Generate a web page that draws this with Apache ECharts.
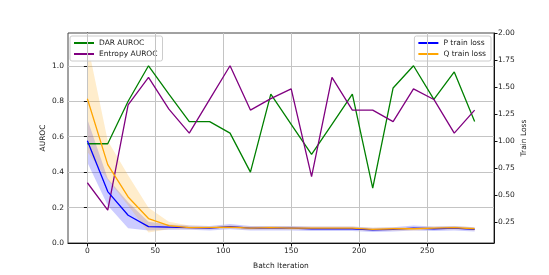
<!DOCTYPE html>
<html><head><meta charset="utf-8">
<script src="https://cdn.jsdelivr.net/npm/echarts@6/dist/echarts.min.js"></script>
<style>html,body{margin:0;padding:0;background:#fff}#c{width:549px;height:275px}</style>
</head><body><div id="c"></div>
<script>
const iterations = [0,15,30,45,60,75,90,105,120,135,150,165,180,195,210,225,240,255,270,285];
const darAuroc = [0.56,0.56,0.80,1.0,0.84,0.685,0.685,0.62,0.40,0.84,0.67,0.50,0.67,0.84,0.31,0.875,1.0,0.81,0.965,0.685];
const entropyAuroc = [0.34,0.185,0.78,0.935,0.755,0.62,0.81,1.0,0.75,0.815,0.87,0.375,0.935,0.75,0.75,0.685,0.87,0.81,0.62,0.75];
const pLoss = [1.0,0.53,0.31,0.205,0.20,0.195,0.19,0.205,0.19,0.19,0.19,0.185,0.185,0.185,0.175,0.18,0.19,0.185,0.19,0.18];
const pLossLow = [0.80,0.40,0.19,0.17,0.175,0.175,0.17,0.18,0.17,0.17,0.17,0.165,0.165,0.165,0.155,0.16,0.17,0.165,0.17,0.16];
const pLossHigh = [1.20,0.65,0.43,0.25,0.225,0.215,0.21,0.23,0.21,0.21,0.21,0.205,0.205,0.205,0.195,0.20,0.215,0.205,0.21,0.20];
const qLoss = [1.39,0.78,0.48,0.28,0.215,0.195,0.195,0.20,0.19,0.195,0.19,0.19,0.19,0.19,0.18,0.185,0.185,0.19,0.195,0.185];
const qLossLow = [0.90,0.64,0.40,0.15,0.18,0.18,0.18,0.185,0.175,0.18,0.175,0.175,0.175,0.175,0.165,0.17,0.17,0.175,0.18,0.17];
const qLossHigh = [1.91,1.0,0.68,0.38,0.25,0.215,0.21,0.215,0.205,0.21,0.205,0.205,0.205,0.205,0.195,0.20,0.20,0.205,0.21,0.20];
const xTicks = [0,50,100,150,200,250];
const aurocTicks = [0,0.2,0.4,0.6,0.8,1.0];
const lossTicks = [0.25,0.5,0.75,1.0,1.25,1.5,1.75,2.0];

const pair = (ys) => iterations.map((x,i)=>[x, ys[i]]);
const F = 'DejaVu Sans';
const chart = echarts.init(document.getElementById('c'), null, {renderer:'canvas'});
const lineS = (name, data, color, yi) => ({name, type:'line', data, yAxisIndex:yi, symbol:'none', lineStyle:{color, width:1.3}, itemStyle:{color}, z:5, animation:false});
const band = (hi, lo, color) => ({type:'custom', yAxisIndex:1, data:[[iterations[0], lo[0]]], silent:true, z:1, clip:true,
  renderItem:(params, api) => {
    const top = iterations.map((x,i)=>api.coord([x, hi[i]]));
    const bot = iterations.map((x,i)=>api.coord([x, lo[i]])).reverse();
    return {type:'polygon', shape:{points:top.concat(bot)}, style:{fill:color, opacity:0.2}};
  }});
chart.setOption({
  animation:false,
  grid:{left:68, right:55, top:33, bottom:31, show:true, borderColor:'#444', borderWidth:1, backgroundColor:'transparent'},
  legend:[
    {data:['DAR AUROC','Entropy AUROC'], orient:'vertical', left:70, top:36, itemWidth:20, itemHeight:2, itemGap:3, icon:'rect',
     textStyle:{fontFamily:F, fontSize:7.5, color:'#222'}, borderColor:'#ccc', borderWidth:1, borderRadius:2, padding:[3,5,3,4], backgroundColor:'rgba(255,255,255,0.8)'},
    {data:['P train loss','Q train loss'], orient:'vertical', right:58, top:36, itemWidth:20, itemHeight:2, itemGap:3, icon:'rect',
     textStyle:{fontFamily:F, fontSize:7.5, color:'#222'}, borderColor:'#ccc', borderWidth:1, borderRadius:2, padding:[3,5,3,4], backgroundColor:'rgba(255,255,255,0.8)'}
  ],
  xAxis:{type:'value', min:-14.25, max:299.25, name:'Batch Iteration', nameLocation:'middle', nameGap:19, nameMoveOverlap:false,
    nameTextStyle:{fontFamily:F, fontSize:7.5, color:'#222'},
    axisLine:{show:true, lineStyle:{color:'#111'}}, axisTick:{show:true, length:3.5, customValues:xTicks, lineStyle:{color:'#111'}},
    axisLabel:{customValues:xTicks, fontFamily:F, fontSize:7.5, color:'#222', margin:4},
    splitLine:{show:false}},
  yAxis:[
    {type:'value', min:0, max:1.185, interval:0.2, position:'left', name:'AUROC', nameLocation:'middle', nameGap:21, nameMoveOverlap:false,
     nameTextStyle:{fontFamily:F, fontSize:7.5, color:'#222'},
     axisLine:{show:true, lineStyle:{color:'#111'}}, axisTick:{show:true, length:3.5, customValues:aurocTicks, lineStyle:{color:'#111'}},
     axisLabel:{customValues:aurocTicks, fontFamily:F, fontSize:7.5, color:'#222', margin:4, formatter:v=>v.toFixed(1)},
     splitLine:{show:true, lineStyle:{color:'#c4c4c4', width:1}}},
    {type:'value', min:0.053, max:2.0, position:'right', name:'Train Loss', nameLocation:'middle', nameGap:26, nameMoveOverlap:false,
     nameTextStyle:{fontFamily:F, fontSize:7.5, color:'#222'},
     axisLine:{show:true, lineStyle:{color:'#111'}}, axisTick:{show:true, length:3.5, customValues:lossTicks, lineStyle:{color:'#111'}},
     axisLabel:{customValues:lossTicks, fontFamily:F, fontSize:7.5, color:'#222', margin:4, formatter:v=>v.toFixed(2)},
     splitLine:{show:false}}
  ],
  series:[
    {type:'line', data:[], yAxisIndex:0, silent:true,
     markLine:{silent:true, symbol:'none', label:{show:false}, lineStyle:{color:'#c4c4c4', width:1, type:'solid'},
       data:xTicks.map(x=>({xAxis:x}))}, z:0},
    band(pLossHigh, pLossLow, '#0000ff'),
    band(qLossHigh, qLossLow, '#ffa500'),
    lineS('DAR AUROC', pair(darAuroc), '#008000', 0),
    lineS('Entropy AUROC', pair(entropyAuroc), '#800080', 0),
    lineS('P train loss', pair(pLoss), '#0000ff', 1),
    lineS('Q train loss', pair(qLoss), '#ffa500', 1)
  ]
});
</script></body></html>
